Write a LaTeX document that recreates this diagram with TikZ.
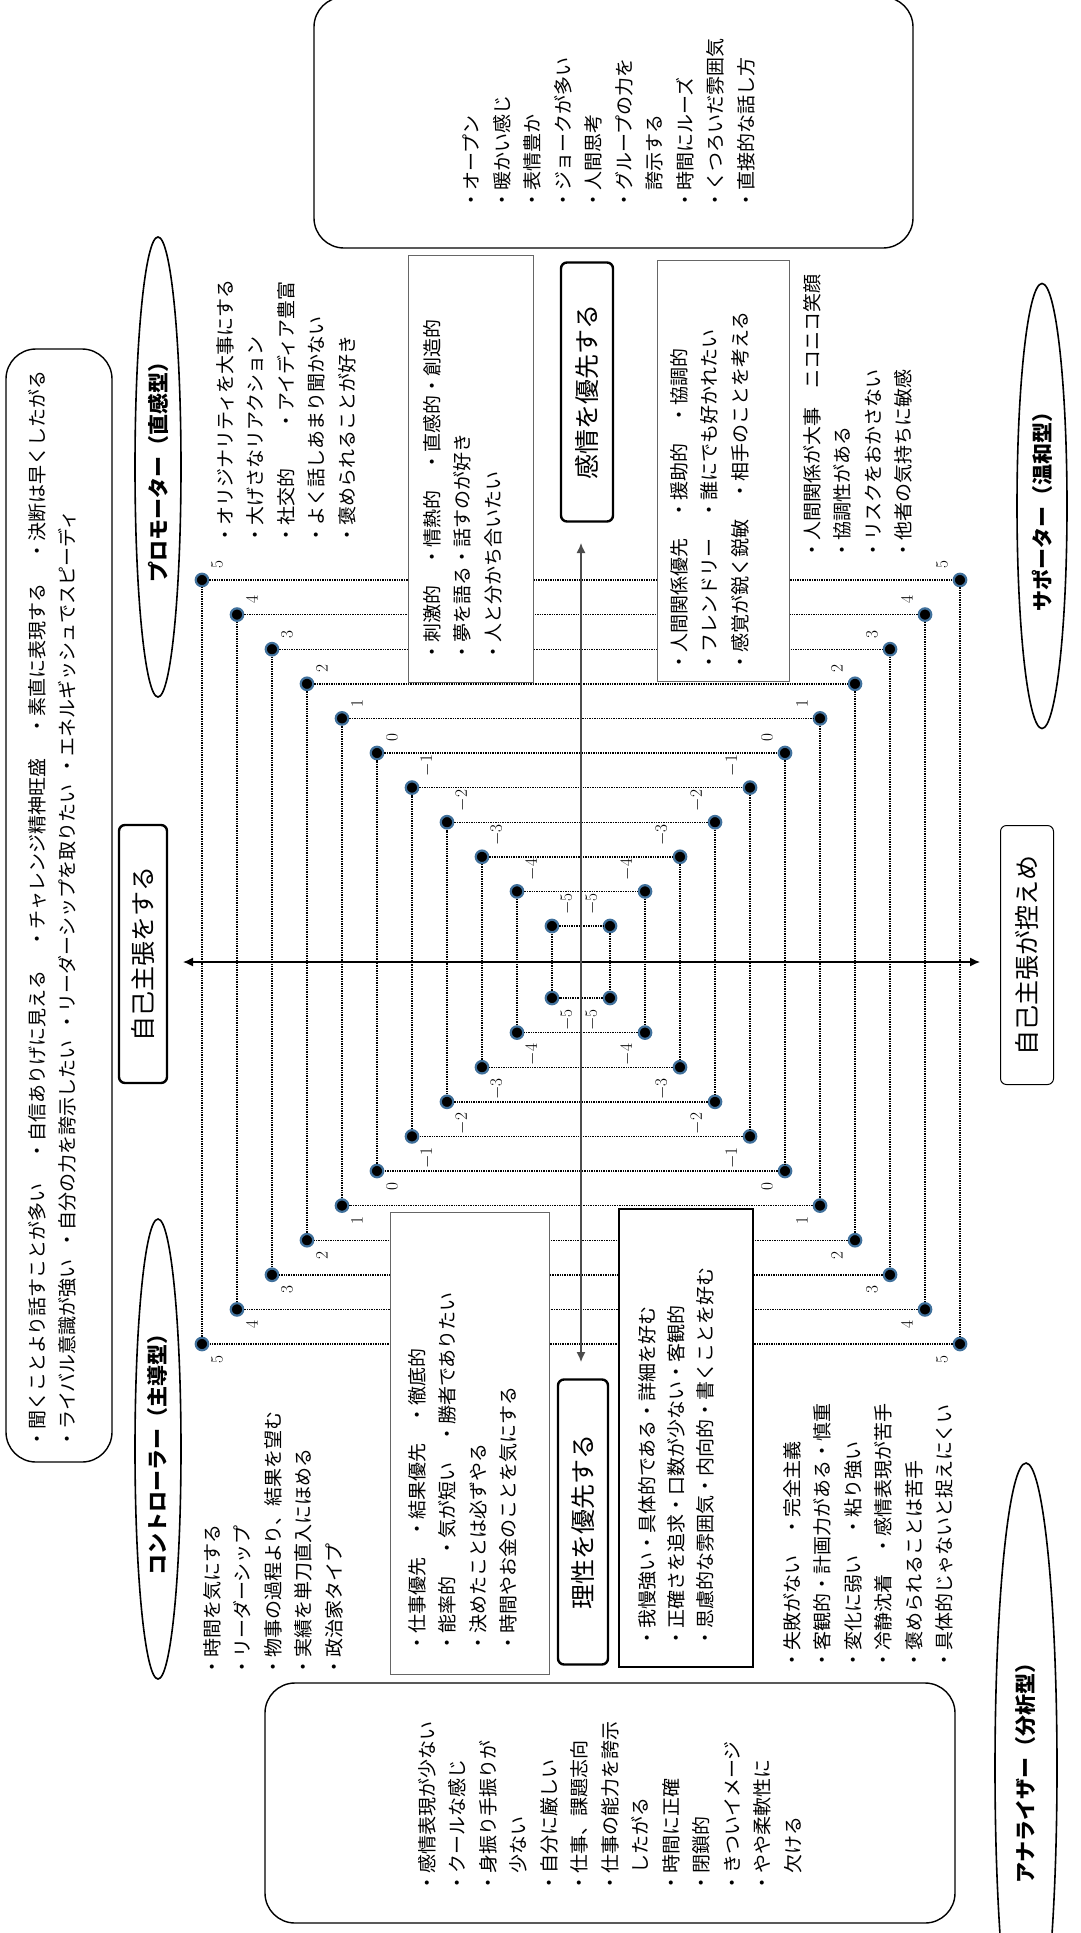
\documentclass[tikz,border=0pt]{standalone}
\usepackage{fontspec}
\setmainfont{Noto Sans CJK JP}
\usetikzlibrary{arrows.meta, positioning, shapes.geometric}
\definecolor{pinblue}{RGB}{65,113,156}

\begin{document}
\begin{tikzpicture}[x=1pt, y=-1pt,
  body/.style={rotate=90, anchor=north west, align=left, inner sep=0pt, font=\fontsize{19}{30.5}\selectfont},
  tag/.style={ellipse, draw, line width=1.6pt, rotate=90, inner sep=0pt, font=\bfseries\fontsize{21}{21}\selectfont},
  card/.style={draw, line width=1.4pt, rounded corners=30pt},
  note/.style={draw=black!60, fill=white, line width=0.9pt},
  pole/.style={draw, fill=white, rounded corners=6pt, line width=2.4pt, rotate=90, inner sep=0pt, font=\fontsize{25}{25}\selectfont},
  pt/.style={circle, fill=black, draw=pinblue, line width=2.2pt, inner sep=0pt, minimum size=12.5pt},
  lvl/.style={rotate=90, inner sep=0pt, font=\fontsize{19}{19}\selectfont},
  ring/.style={densely dotted, line width=1.4pt},
  axis/.style={{Latex[length=10pt,width=9pt]}-{Latex[length=10pt,width=9pt]}, line width=1.3pt}
]
\useasboundingbox (0,0) rectangle (1080,1933);

% nested levels 5 ... -5
\foreach \i in {0,...,10}{
  \pgfmathsetmacro\hw{379-35*\i}
  \pgfmathsetmacro\hh{382-34.6*\i}
  \pgfmathtruncatemacro\lv{5-\i}
  \node[pt] (tl\i) at (581-\hw, 962-\hh) {};
  \node[pt] (tr\i) at (581+\hw, 962-\hh) {};
  \node[pt] (bl\i) at (581-\hw, 962+\hh) {};
  \node[pt] (br\i) at (581+\hw, 962+\hh) {};
  \draw[ring] (tl\i) -- (tr\i) (tr\i) -- (br\i) (br\i) -- (bl\i) (bl\i) -- (tl\i);
  \node[lvl, anchor=west] (ntl\i) at (581-\hw+15, 962-\hh-11) {$\lv$};
  \node[lvl, anchor=west] (ntr\i) at (581+\hw-18, 962-\hh-11) {$\lv$};
  \node[lvl, anchor=east] (nbl\i) at (581-\hw+15, 962+\hh+11) {$\lv$};
  \node[lvl, anchor=east] (nbr\i) at (581+\hw-18, 962+\hh+11) {$\lv$};
}

% axes
\coordinate (ax-l) at (183,962);
\coordinate (ax-r) at (980,962);
\coordinate (ax-t) at (581,543);
\coordinate (ax-b) at (581,1362);
\draw[axis] (ax-l) -- (ax-r);
\draw[axis, draw=black!70] (ax-t) -- (ax-b);

% poles
\node[pole, minimum width=258pt, minimum height=48pt] (self) at (143,954) {自己主張をする};
\node[pole, line width=1pt, minimum width=259pt, minimum height=53pt] (modest) at (1027,955) {自己主張が控えめ};
\node[pole, minimum width=259pt, minimum height=52pt] (feel) at (587,392) {感情を優先する};
\node[pole, minimum width=285pt, minimum height=50pt] (reason) at (583,1522) {理性を優先する};

% types
\node[tag, minimum width=460pt, minimum height=46pt] (prom) at (158,467) {プロモーター（直感型）};
\node[tag, minimum width=460pt, minimum height=46pt] (ctrl) at (158,1449) {コントローラー（主導型）};
\node[tag, minimum width=445pt, minimum height=50pt] (supp) at (1042,506) {サポーター（温和型）};
\node[tag, minimum width=610pt, minimum height=62pt] (anal) at (1026,1768) {アナライザー（分析型）};

% inner boxes
\draw[note] (408,255) rectangle (533,682);
\draw[note] (657,260) rectangle (789,681);
\draw[note] (390,1212) rectangle (549,1674);
\draw[note, draw=black, line width=2.2pt] (619,1209) rectangle (753,1667);

% outer cards
\draw[card] (6,349) rectangle (112,1462);
\draw[card] (314,-3) rectangle (913,248);
\draw[card] (265,1683) rectangle (955,1923);

% texts
\node[body] (tx-top) at (28,1449) {・聞くことより話すことが多い\hspace{1.2em}・自信ありげに見える\hspace{1.2em}・チャレンジ精神旺盛\hspace{1.2em}・素直に表現する\hspace{1.2em}・決断は早くしたがる\\・ライバル意識が強い\hspace{0.5em}・自分の力を誇示したい\hspace{0.5em}・リーダーシップを取りたい\hspace{0.5em}・エネルギッシュでスピーディ};
\node[body] (tx-warm) at (463,210) {・オープン\\・暖かい感じ\\・表情豊か\\・ジョークが多い\\・人間思考\\・グループの力を\\\phantom{・}誇示する\\・時間にルーズ\\・くつろいだ雰囲気\\・直接的な話し方};
\node[body] (tx-prom) at (216,545) {・オリジナリティを大事にする\\・大げさなリアクション\\・社交的　　・アイディア豊富\\・よく話しあまり聞かない\\・褒められることが好き};
\node[body] (tx-p) at (423,662) {・刺激的　・情熱的　・直感的・創造的\\・夢を語る・話すのが好き\\・人と分かち合いたい};
\node[body] (tx-s) at (670,672) {・人間関係優先　・援助的　・協調的\\・フレンドリー　・誰にでも好かれたい\\・感覚が鋭く鋭敏　・相手のことを考える};
\node[body] (tx-supp) at (803,560) {・人間関係が大事　ニコニコ笑顔\\・協調性がある\\・リスクをおかさない\\・他者の気持ちに敏感};
\node[body] (tx-ctrl) at (203,1677) {・時間を気にする\\・リーダーシップ\\・物事の過程より、結果を望む\\・実績を単刀直入にほめる\\・政治家タイプ};
\node[body] (tx-c) at (408,1653) {・仕事優先　・結果優先　・徹底的\\・能率的　・気が短い　・勝者でありたい\\・決めたことは必ずやる\\・時間やお金のことを気にする};
\node[body, font=\fontsize{19}{29}\selectfont] (tx-a) at (638,1648) {・我慢強い・具体的である・詳細を好む\\・正確さを追求・口数が少ない・客観的\\・思慮的な雰囲気・内向的・書くことを好む};
\node[body] (tx-anal) at (783,1670) {・失敗がない　・完全主義\\・客観的・計画力がある・慎重\\・変化に弱い　・粘り強い\\・冷静沈着　・感情表現が苦手\\・褒められることは苦手\\・具体的じゃないと捉えにくい};
\node[body] (tx-cool) at (418,1893) {・感情表現が少ない\\・クールな感じ\\・身振り手振りが\\\phantom{・}少ない\\・自分に厳しい\\・仕事、課題志向\\・仕事の能力を誇示\\\phantom{・}したがる\\・時間に正確\\・閉鎖的\\・きついイメージ\\・やや柔軟性に\\\phantom{・}欠ける};
\end{tikzpicture}
\end{document}
